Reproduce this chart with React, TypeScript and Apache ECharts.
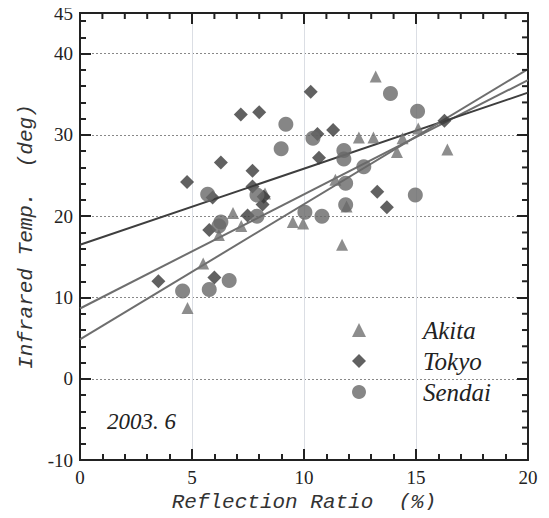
import React, { useEffect, useRef } from "react";
import * as echarts from "echarts";

// Reflection ratio (%) vs infrared temperature (deg), June 2003
const akitaPoints: [number, number][] = [
  [4.8, 8.7], [5.5, 14.2], [6.2, 17.7], [6.83, 20.4], [7.2, 18.8], [8.26, 22.8],
  [9.5, 19.3], [9.96, 19.1], [11.4, 24.5], [11.7, 16.5], [11.9, 21.2], [12.45, 29.7],
  [13.1, 29.7], [13.2, 37.2], [14.15, 27.9], [14.4, 29.6], [15.1, 30.8], [16.4, 28.2],
];
const tokyoPoints: [number, number][] = [
  [3.5, 12.0], [4.78, 24.2], [5.92, 22.3], [5.77, 18.3], [6.0, 12.45], [6.29, 26.6],
  [7.18, 32.5], [8.0, 32.8], [7.7, 25.6], [7.7, 23.65], [7.48, 20.1], [8.2, 22.4],
  [8.15, 21.45], [10.3, 35.3], [10.6, 30.1], [10.67, 27.2], [11.3, 30.6], [13.27, 23.0],
  [13.7, 21.1], [16.27, 31.75],
];
const sendaiPoints: [number, number][] = [
  [4.58, 10.8], [5.77, 11.0], [6.66, 12.1], [5.7, 22.7], [6.29, 19.3], [6.2, 18.8],
  [7.9, 22.6], [7.9, 20.0], [8.98, 28.3], [9.19, 31.3], [10.4, 29.6], [10.04, 20.5],
  [10.8, 20.0], [11.78, 28.1], [11.78, 27.05], [11.86, 24.06], [11.86, 21.4], [12.67, 26.1],
  [13.86, 35.1], [15.07, 32.9], [14.97, 22.6],
];
// regression lines (endpoints at x = 0 and x = 20)
const akitaFit: [number, number][] = [[0, 8.65], [20, 36.75]];
const tokyoFit: [number, number][] = [[0, 16.5], [20, 35.2]];
const sendaiFit: [number, number][] = [[0, 4.85], [20, 38.1]];

const seriesNames = ["Akita", "Tokyo", "Sendai"];
const xTitle = "Reflection Ratio  (%)";
const yTitle = "Infrared Temp.  (deg)";
const noteText = "2003. 6";

const X_MIN = 0, X_MAX = 20, X_STEP = 5;
const Y_MIN = -10, Y_MAX = 45, Y_STEP = 10, Y_MINOR = 2;

// minor tick values mirrored on the top and right frame
const topMinorTicks = [1, 2, 3, 4, 6, 7, 8, 9, 11, 12, 13, 14, 16, 17, 18, 19];
const rightMinorTicks = [-8, -6, -4, -2, 2, 4, 6, 8, 12, 14, 16, 18, 22, 24, 26, 28, 32, 34, 36, 38, 42, 44];

const serif = "Liberation Serif";
const mono = "Liberation Mono";
const frame = "#222";

const line = () => ({ show: true, onZero: false, lineStyle: { color: frame, width: 2 } });
const tick = (len: number) => ({ show: true, inside: true, length: len, lineStyle: { color: frame, width: 2 } });

export default function App() {
  const ref = useRef<HTMLDivElement>(null);
  useEffect(() => {
    if (!ref.current) return;
    const chart = echarts.init(ref.current, undefined, { renderer: "svg" });
    const tickRender = (dir: "top" | "right") => (params: any, api: any) => {
      const p = api.coord([api.value(0), api.value(1)]);
      const shape = dir === "top"
        ? { x1: p[0], y1: p[1], x2: p[0], y2: p[1] + 6 }
        : { x1: p[0], y1: p[1], x2: p[0] - 6, y2: p[1] };
      return { type: "line", shape, style: { stroke: frame, lineWidth: 2 } };
    };
    chart.setOption({
      animation: false,
      grid: { left: 80, right: 21, top: 13, bottom: 57 },
      xAxis: [
        {
          type: "value", position: "bottom", min: X_MIN, max: X_MAX, interval: X_STEP,
          axisLine: line(), axisTick: tick(11),
          minorTick: { show: true, length: 6, splitNumber: 5, lineStyle: { color: frame, width: 2 } },
          axisLabel: { fontFamily: serif, fontSize: 19, color: frame },
          name: xTitle, nameLocation: "middle", nameGap: 27,
          nameTextStyle: { fontFamily: mono, fontStyle: "italic", fontSize: 21, color: "#333" },
        },
        {
          type: "value", position: "top", min: X_MIN, max: X_MAX, interval: X_STEP,
          axisLine: line(), axisTick: tick(11), axisLabel: { show: false }, splitLine: { show: false },
        },
      ],
      yAxis: [
        {
          type: "value", position: "left", min: Y_MIN, max: Y_MAX, interval: Y_STEP,
          axisLine: line(), axisTick: tick(11),
          axisLabel: { fontFamily: serif, fontSize: 19, color: frame, margin: 7 },
          splitLine: { show: true, lineStyle: { color: "#888", type: [2, 2], width: 1 } },
          name: yTitle, nameLocation: "middle", nameGap: 42, nameRotate: 90,
          nameTextStyle: { fontFamily: mono, fontStyle: "italic", fontSize: 21, color: "#333" },
        },
        {
          type: "value", position: "left", min: Y_MIN, max: Y_MAX, interval: Y_MINOR,
          axisLine: line(), axisTick: tick(6), axisLabel: { show: false }, splitLine: { show: false },
        },
        {
          type: "value", position: "right", min: Y_MIN, max: Y_MAX, interval: Y_STEP,
          axisLine: line(), axisTick: tick(11), axisLabel: { show: false }, splitLine: { show: false },
        },
      ],
      legend: {
        orient: "vertical", left: 352, top: 315, padding: 0, itemGap: 1,
        itemWidth: 14, itemHeight: 14, data: seriesNames,
        textStyle: {
          fontFamily: serif, fontStyle: "italic", fontSize: 25, color: "#222",
          padding: [0, 0, 0, 52], lineHeight: 30,
        },
      },
      graphic: [
        {
          type: "text", left: 107, top: 410,
          style: { text: noteText, font: `italic 23px ${serif}`, fill: "#222" },
        },
      ],
      series: [
        { type: "custom", name: "topTicks", silent: true, data: topMinorTicks.map((v) => [v, Y_MAX]),
          renderItem: tickRender("top") },
        { type: "custom", name: "rightTicks", silent: true, data: rightMinorTicks.map((v) => [X_MAX, v]),
          renderItem: tickRender("right") },
        { type: "line", name: "AkitaFit", data: akitaFit, showSymbol: false, silent: true, z: 1,
          lineStyle: { color: "#6e6e6e", width: 2 } },
        { type: "line", name: "TokyoFit", data: tokyoFit, showSymbol: false, silent: true, z: 1,
          lineStyle: { color: "#3e3e3e", width: 2 } },
        { type: "line", name: "SendaiFit", data: sendaiFit, showSymbol: false, silent: true, z: 1,
          lineStyle: { color: "#6e6e6e", width: 2 } },
        { type: "scatter", name: "Akita", data: akitaPoints, symbol: "triangle", symbolSize: 12, z: 3,
          itemStyle: { color: "#707070" } },
        { type: "scatter", name: "Tokyo", data: tokyoPoints, symbol: "diamond", symbolSize: 14, z: 3,
          itemStyle: { color: "#3a3a3a" } },
        { type: "scatter", name: "Sendai", data: sendaiPoints, symbol: "circle", symbolSize: 15, z: 3,
          itemStyle: { color: "#686868" } },
      ],
    });
    return () => chart.dispose();
  }, []);
  return <div ref={ref} style={{ width: 549, height: 518, margin: -8 }} />;
}
